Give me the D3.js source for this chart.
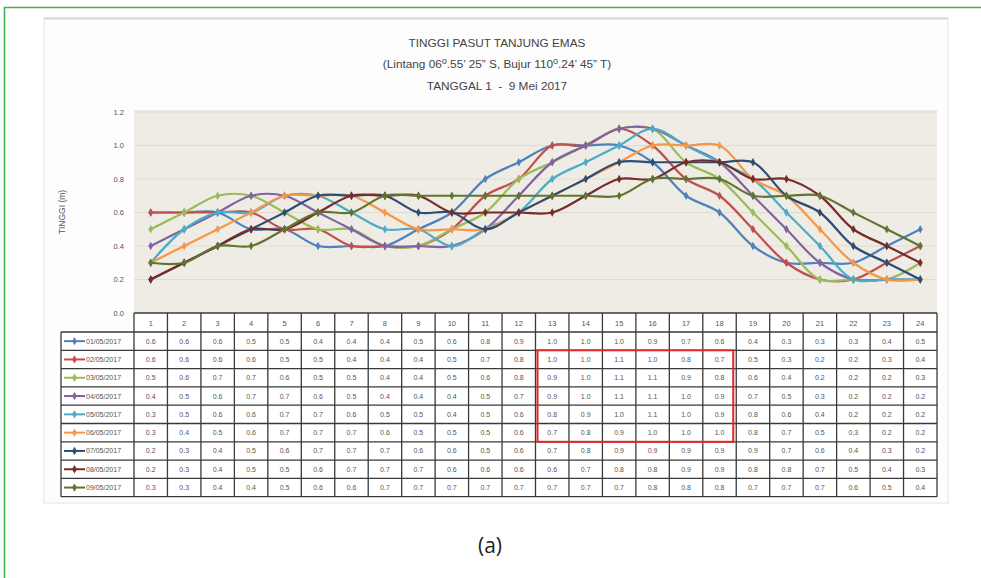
<!DOCTYPE html>
<html>
<head>
<meta charset="utf-8">
<script src="https://cdn.jsdelivr.net/npm/d3@7"></script>
<style>
  html, body { margin: 0; padding: 0; background: #ffffff; }
  svg { display: block; }
</style>
</head>
<body>
<svg id="chart" width="981" height="578"></svg>
<script>
// Hourly tide heights (m), Tanjung Emas, 1–9 May 2017
const hours = d3.range(1, 25);
const dates = ["01/05/2017", "02/05/2017", "03/05/2017", "04/05/2017", "05/05/2017",
               "06/05/2017", "07/05/2017", "08/05/2017", "09/05/2017"];
const day01 = [0.6,0.6,0.6,0.5,0.5,0.4,0.4,0.4,0.5,0.6,0.8,0.9,1.0,1.0,1.0,0.9,0.7,0.6,0.4,0.3,0.3,0.3,0.4,0.5];
const day02 = [0.6,0.6,0.6,0.6,0.5,0.5,0.4,0.4,0.4,0.5,0.7,0.8,1.0,1.0,1.1,1.0,0.8,0.7,0.5,0.3,0.2,0.2,0.3,0.4];
const day03 = [0.5,0.6,0.7,0.7,0.6,0.5,0.5,0.4,0.4,0.5,0.6,0.8,0.9,1.0,1.1,1.1,0.9,0.8,0.6,0.4,0.2,0.2,0.2,0.3];
const day04 = [0.4,0.5,0.6,0.7,0.7,0.6,0.5,0.4,0.4,0.4,0.5,0.7,0.9,1.0,1.1,1.1,1.0,0.9,0.7,0.5,0.3,0.2,0.2,0.2];
const day05 = [0.3,0.5,0.6,0.6,0.7,0.7,0.6,0.5,0.5,0.4,0.5,0.6,0.8,0.9,1.0,1.1,1.0,0.9,0.8,0.6,0.4,0.2,0.2,0.2];
const day06 = [0.3,0.4,0.5,0.6,0.7,0.7,0.7,0.6,0.5,0.5,0.5,0.6,0.7,0.8,0.9,1.0,1.0,1.0,0.8,0.7,0.5,0.3,0.2,0.2];
const day07 = [0.2,0.3,0.4,0.5,0.6,0.7,0.7,0.7,0.6,0.6,0.5,0.6,0.7,0.8,0.9,0.9,0.9,0.9,0.9,0.7,0.6,0.4,0.3,0.2];
const day08 = [0.2,0.3,0.4,0.5,0.5,0.6,0.7,0.7,0.7,0.6,0.6,0.6,0.6,0.7,0.8,0.8,0.9,0.9,0.8,0.8,0.7,0.5,0.4,0.3];
const day09 = [0.3,0.3,0.4,0.4,0.5,0.6,0.6,0.7,0.7,0.7,0.7,0.7,0.7,0.7,0.7,0.8,0.8,0.8,0.7,0.7,0.7,0.6,0.5,0.4];
const seriesValues = [day01, day02, day03, day04, day05, day06, day07, day08, day09];
const colors = ["#4F81BD", "#C0504D", "#9BBB59", "#8064A2", "#4BACC6",
                "#F79646", "#2C4D75", "#772C2A", "#5F7530"];
const yTicks = [0.0, 0.2, 0.4, 0.6, 0.8, 1.0, 1.2];
const titleLines = ["TINGGI PASUT TANJUNG EMAS", null, "TANGGAL 1  -  9 Mei 2017"];
// highlighted block: hours 13–18, 02/05 to 06/05
const highlightHours = [13, 18];
const highlightDays = ["02/05/2017", "06/05/2017"];

const svg = d3.select("#chart");
const font = "'Liberation Sans Narrow', 'Liberation Sans', sans-serif";

// figure frame (left and top rule)
svg.append("path")
  .attr("d", "M4.5,578 V7.5 H981")
  .attr("fill", "none").attr("stroke", "#45b351").attr("stroke-width", 1.6);

// chart card
svg.append("rect")
  .attr("x", 44).attr("y", 18).attr("width", 904).attr("height", 485)
  .attr("fill", "#fdfdfd").attr("stroke", "#e4e4e4").attr("stroke-width", 1);
svg.append("line").attr("x1", 44).attr("x2", 948).attr("y1", 18.5).attr("y2", 18.5)
  .attr("stroke", "#d8d8d8").attr("stroke-width", 2);

// layout
const plotLeft = 134, plotRight = 937, plotTop = 110, plotBottom = 313;
const x = d3.scaleBand().domain(hours).range([plotLeft, plotRight]);
const y = d3.scaleLinear().domain([0, 1.2]).range([plotBottom, plotTop + 2]);
const cx = h => x(h) + x.bandwidth() / 2;

// plot area background
svg.append("rect")
  .attr("x", plotLeft).attr("y", plotTop).attr("width", plotRight - plotLeft).attr("height", plotBottom - plotTop)
  .attr("fill", "#efece5");

// horizontal gridlines
svg.append("g").selectAll("line").data(yTicks.slice(1)).join("line")
  .attr("x1", plotLeft).attr("x2", plotRight)
  .attr("y1", d => y(d)).attr("y2", d => y(d))
  .attr("stroke", "#dedbd2").attr("stroke-width", 1.2);

// y axis
const yAxis = svg.append("g")
  .attr("transform", `translate(${plotLeft - 10},0)`)
  .call(d3.axisLeft(y).tickValues(yTicks).tickFormat(d3.format(".1f")).tickSize(0).tickPadding(0));
yAxis.select(".domain").remove();
yAxis.selectAll("text")
  .attr("font-family", font).attr("font-size", 7.5).attr("fill", "#555");

svg.append("text")
  .attr("transform", "translate(65,212) rotate(-90)")
  .attr("text-anchor", "middle")
  .attr("font-family", font).attr("font-size", 8.5).attr("fill", "#555")
  .text("TINGGI (m)");

// title
const title = svg.append("g").attr("font-family", font).attr("fill", "#444")
  .attr("text-anchor", "middle").attr("font-size", 11.8);
title.append("text").attr("x", 497).attr("y", 47).text(titleLines[0]);
const t2 = title.append("text").attr("x", 497).attr("y", 68);
t2.append("tspan").text("(Lintang 06");
t2.append("tspan").attr("dy", -4).attr("font-size", 9).text("o");
t2.append("tspan").attr("dy", 4).text(".55\u2019 25\u201D S, Bujur 110");
t2.append("tspan").attr("dy", -4).attr("font-size", 9).text("o");
t2.append("tspan").attr("dy", 4).text(".24\u2019 45\u201D T)");
title.append("text").attr("x", 497).attr("y", 90).attr("xml:space", "preserve").text(titleLines[2]);

// lines
const line = d3.line()
  .x((d, i) => cx(hours[i]))
  .y(d => y(d))
  .curve(d3.curveCatmullRom.alpha(0.5));

const series = svg.append("g").selectAll("g").data(seriesValues).join("g");
series.append("path")
  .attr("d", d => line(d))
  .attr("fill", "none")
  .attr("stroke", (d, i) => colors[i])
  .attr("stroke-width", 2.2);
const diamond = d3.symbol().type(d3.symbolDiamond).size(20);
series.each(function (vals, si) {
  d3.select(this).selectAll("path.m").data(vals).join("path")
    .attr("class", "m")
    .attr("transform", (d, i) => `translate(${cx(hours[i])},${y(d)})`)
    .attr("d", diamond)
    .attr("fill", colors[si]);
});

// data table
const headerTop = 313, headerH = 19, rowH = 18.3;
const legendLeft = 61;
const rowY = d3.scaleBand().domain(dates).range([headerTop + headerH, headerTop + headerH + rowH * dates.length]);
const tableBottom = headerTop + headerH + rowH * dates.length;
const table = svg.append("g");

table.append("rect")
  .attr("x", plotLeft).attr("y", headerTop).attr("width", plotRight - plotLeft).attr("height", tableBottom - headerTop)
  .attr("fill", "#ffffff");
table.append("rect")
  .attr("x", legendLeft).attr("y", headerTop + headerH).attr("width", plotLeft - legendLeft)
  .attr("height", tableBottom - headerTop - headerH).attr("fill", "#ffffff");

const grid = table.append("g").attr("stroke", "#3a3a3a").attr("stroke-width", 1.3);
// vertical rules
hours.concat([25]).forEach(h => {
  const xx = h <= 24 ? x(h) : plotRight;
  grid.append("line").attr("x1", xx).attr("x2", xx).attr("y1", headerTop).attr("y2", tableBottom);
});
grid.append("line").attr("x1", legendLeft).attr("x2", legendLeft)
  .attr("y1", headerTop + headerH).attr("y2", tableBottom);
// horizontal rules
grid.append("line").attr("x1", plotLeft).attr("x2", plotRight).attr("y1", headerTop).attr("y2", headerTop);
dates.forEach(dt => {
  grid.append("line").attr("x1", legendLeft).attr("x2", plotRight)
    .attr("y1", rowY(dt)).attr("y2", rowY(dt));
});
grid.append("line").attr("x1", legendLeft).attr("x2", plotRight).attr("y1", tableBottom).attr("y2", tableBottom);

// header labels
table.append("g").selectAll("text").data(hours).join("text")
  .attr("x", h => cx(h)).attr("y", headerTop + headerH / 2 + 3)
  .attr("text-anchor", "middle")
  .attr("font-family", font).attr("font-size", 7.5).attr("fill", "#555")
  .text(h => h);

// rows
dates.forEach((dt, si) => {
  const yc = rowY(dt) + rowY.bandwidth() / 2;
  const g = table.append("g");
  g.append("line").attr("x1", legendLeft + 3).attr("x2", legendLeft + 24)
    .attr("y1", yc).attr("y2", yc).attr("stroke", colors[si]).attr("stroke-width", 2);
  g.append("path").attr("transform", `translate(${legendLeft + 13.5},${yc})`)
    .attr("d", diamond).attr("fill", colors[si]);
  g.append("text").attr("x", legendLeft + 25).attr("y", yc + 2.5)
    .attr("font-family", font).attr("font-size", 7).attr("fill", "#555")
    .text(dt);
  g.selectAll("text.v").data(seriesValues[si]).join("text")
    .attr("class", "v")
    .attr("x", (d, i) => cx(hours[i])).attr("y", yc + 2.5)
    .attr("text-anchor", "middle")
    .attr("font-family", font).attr("font-size", 7).attr("fill", "#555")
    .text(d => d3.format(".1f")(d));
});

// highlight frame
const hx0 = x(highlightHours[0]) + 2, hx1 = x(highlightHours[1]) + x.bandwidth() - 3;
const hy0 = rowY(highlightDays[0]), hy1 = rowY(highlightDays[1]) + rowY.bandwidth();
table.append("rect")
  .attr("x", hx0).attr("y", hy0).attr("width", hx1 - hx0).attr("height", hy1 - hy0)
  .attr("fill", "none").attr("stroke", "#e8232a").attr("stroke-width", 2);

// caption
svg.append("text")
  .attr("x", 490).attr("y", 553).attr("text-anchor", "middle")
  .attr("font-family", "'Open Sans', sans-serif").attr("font-size", 21).attr("fill", "#222")
  .text("(a)");
</script>
</body>
</html>
